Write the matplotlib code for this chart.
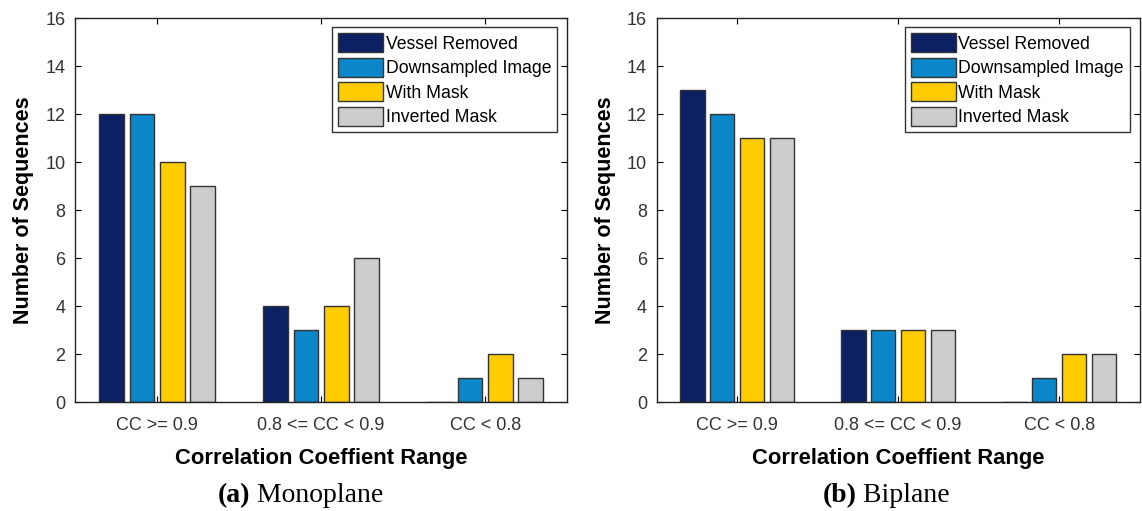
import numpy as np
import matplotlib.pyplot as plt

categories = ['CC >= 0.9', '0.8 <= CC < 0.9', 'CC < 0.8']
methods = ['Vessel Removed', 'Downsampled Image', 'With Mask', 'Inverted Mask']
colors = ['#0b2163', '#0b86c9', '#ffcc00', '#cccccc']

monoplane = [
    [12, 4, 0],   # Vessel Removed
    [12, 3, 1],   # Downsampled Image
    [10, 4, 2],   # With Mask
    [9, 6, 1],    # Inverted Mask
]
biplane = [
    [13, 3, 0],
    [12, 3, 1],
    [11, 3, 2],
    [11, 3, 2],
]

plt.rcParams['font.family'] = ['Liberation Sans', 'DejaVu Sans']

fig = plt.figure(figsize=(11.42, 5.11), dpi=100)
ax1 = fig.add_axes([0.0657, 0.213, 0.431, 0.751])
ax2 = fig.add_axes([0.575, 0.213, 0.423, 0.751])

# caption split point (figure fraction) between bold letter and panel name
for ax, data, cb, cap, split in [(ax1, monoplane, 'a', 'Monoplane', 0.219),
                                 (ax2, biplane, 'b', 'Biplane', 0.750)]:
    x = np.arange(1, len(categories) + 1)
    pitch = 0.185
    for i, (vals, c, name) in enumerate(zip(data, colors, methods)):
        ax.bar(x + (i - 1.5) * pitch, vals, width=0.15, color=c,
               edgecolor='#333333', linewidth=1.0, label=name)
    ax.set_xlim(0.5, 3.5)
    ax.set_ylim(0, 16)
    ax.set_yticks(range(0, 17, 2))
    ax.set_xticks(x)
    ax.set_xticklabels(categories)
    ax.tick_params(direction='in', top=True, right=True, labelsize=13,
                   labelcolor='#333333', length=4, width=0.8, pad=7)
    ax.tick_params(axis='x', pad=11)
    for s in ax.spines.values():
        s.set_linewidth(1.0)
        s.set_color('#222222')
    ax.set_xlabel('Correlation Coeffient Range', fontsize=15.8,
                  fontweight='bold', labelpad=10)
    ax.set_ylabel('Number of Sequences', fontsize=15.5, fontweight='bold',
                  labelpad=8)
    leg = ax.legend(loc='upper right', bbox_to_anchor=(0.98, 0.977),
                    fontsize=12.7, fancybox=False, framealpha=1,
                    edgecolor='#333333', borderpad=0.35, borderaxespad=0,
                    handlelength=2.55, handleheight=1.25, handletextpad=0.15,
                    labelspacing=0.3)
    leg.get_frame().set_linewidth(1.0)

    # sub-figure caption: bold letter, regular name
    fig.text(split, 0.054, '(' + cb + ')', ha='right', va='top',
             fontsize=20, fontweight='bold', family='Liberation Serif')
    fig.text(split, 0.054, ' ' + cap, ha='left', va='top',
             fontsize=20, family='Liberation Serif')

fig.savefig('out.png', dpi=100)
